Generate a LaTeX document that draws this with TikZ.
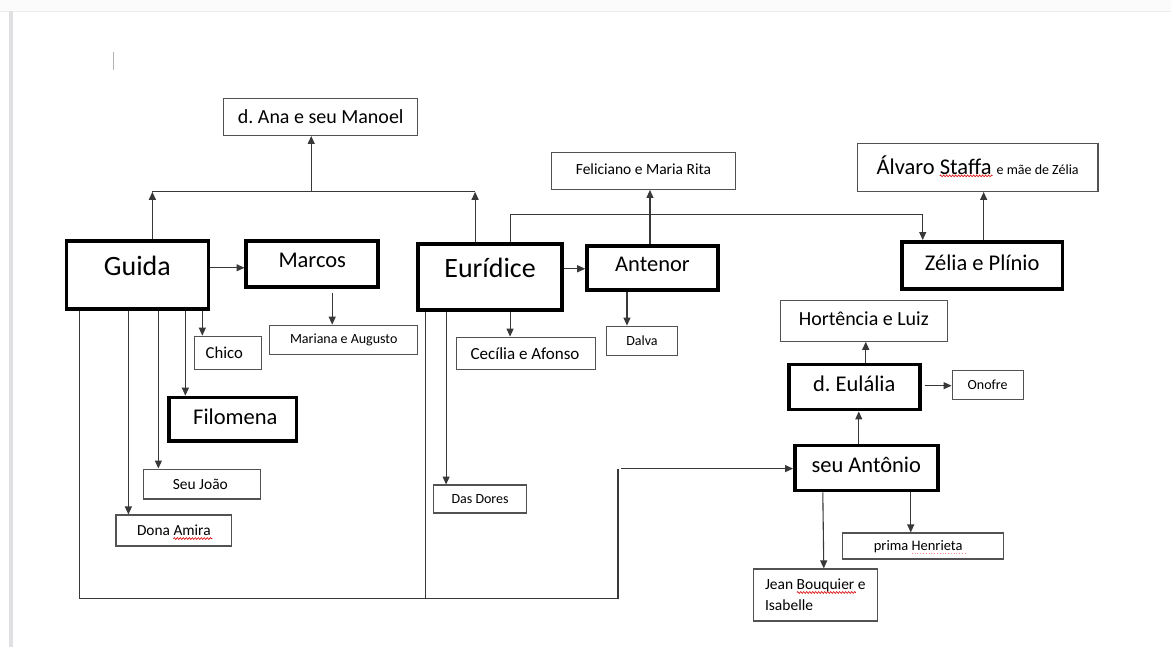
\documentclass[tikz,border=0pt]{standalone}
\usepackage{fontspec}
\setmainfont{Carlito}
\usetikzlibrary{arrows.meta,decorations.pathmorphing}
\newcommand\txtmv[3]{\raisebox{#2pt}[\height][\depth]{\rlap{\kern#1pt #3}\phantom{#3}}}
\newcommand\fsz[1]{\fontsize{#1}{#1}\selectfont}
\frenchspacing
\begin{document}
\begin{tikzpicture}[x=1pt,y=-1pt,
  conn/.style={draw=black!78, line width=1.1pt},
  arr/.style={conn, -{Triangle[length=8pt,width=7pt]}},
  thinbox/.style={draw=black!68, line width=1.2pt, inner sep=0pt, fill=white},
  thickbox/.style={draw=black, line width=3.6pt, inner sep=0pt, fill=white},
  squig/.style={draw=red!85!black, line width=0.6pt, decorate, decoration={snake, segment length=3pt, amplitude=0.9pt}},
]
% page
\fill[white] (0,0) rectangle (1171,648);
\fill[black!1.5] (0,0) rectangle (1171,11);
\draw[black!7, line width=1pt] (0,11.5) -- (1171,11.5);
\fill[blue!8!black!12] (9,11) rectangle (13,648);
\draw[black!30, line width=1pt] (113,52) -- (113,70);
\useasboundingbox (0,0) rectangle (1171,648);

% nodes
\node[thinbox, minimum width=194, minimum height=37, font=\fsz{20}] (dana) at (320.5,117) {d. Ana e seu Manoel};
\node[thickbox, minimum width=142, minimum height=68, font=\fsz{28}] (guida) at (137,275) {\txtmv{0}{9}{Guida}};
\node[thickbox, minimum width=132, minimum height=46, font=\fsz{22.5}] (marcos) at (312,264) {\txtmv{0}{3}{Marcos}};
\node[thinbox, minimum width=148, minimum height=29, font=\fsz{14}] (mariana) at (343.5,340) {Mariana e Augusto};
\node[thinbox, minimum width=67, minimum height=33, font=\fsz{16.7}] (chico) at (228,353) {\txtmv{-4}{0}{Chico}};
\node[thickbox, minimum width=127.4, minimum height=43.4, font=\fsz{22.5}] (filomena) at (232.5,419.5) {\txtmv{2.5}{2}{Filomena}};
\node[thinbox, minimum width=117, minimum height=30, font=\fsz{15.5}] (joao) at (202,484.5) {\txtmv{-2}{0}{Seu João}};
\node[thinbox, minimum width=116, minimum height=31, font=\fsz{15.4}] (amira) at (173.5,531) {Dona Amira};
\node[thickbox, minimum width=144, minimum height=66, font=\fsz{28}] (euridice) at (490,277) {\txtmv{0}{9}{Eurídice}};
\node[thickbox, minimum width=131, minimum height=44, font=\fsz{22.5}] (antenor) at (652.5,268) {\txtmv{0}{3}{Antenor}};
\node[thinbox, minimum width=184, minimum height=37, font=\fsz{15.5}] (feliciano) at (643.5,171) {\txtmv{0}{2}{Feliciano e Maria Rita}};
\node[thinbox, minimum width=139, minimum height=32, font=\fsz{17}] (cecilia) at (526,353.5) {\txtmv{-1}{0}{Cecília e Afonso}};
\node[thinbox, minimum width=71, minimum height=29, font=\fsz{14}] (dalva) at (642,341) {Dalva};
\node[thinbox, minimum width=93, minimum height=28, font=\fsz{14}] (dores) at (480,499.5) {Das Dores};
\node[thinbox, minimum width=241, minimum height=48, font=\fsz{22.5}] (alvaro) at (978,167.5) {\txtmv{0}{2}{Álvaro Staffa {\fsz{14}e mãe de Zélia}}};
\node[thickbox, minimum width=161, minimum height=47, font=\fsz{22.5}] (zelia) at (982.5,265.5) {\txtmv{0}{3}{Zélia e Plínio}};
\node[thinbox, minimum width=167, minimum height=41, font=\fsz{20}] (hortencia) at (864,321) {\txtmv{0}{2}{Hortência e Luiz}};
\node[thickbox, minimum width=131, minimum height=45, font=\fsz{22.5}] (eulalia) at (854.5,387.5) {\txtmv{0}{3}{d. Eulália}};
\node[thinbox, minimum width=71, minimum height=29, font=\fsz{14}] (onofre) at (988,385) {Onofre};
\node[thickbox, minimum width=143, minimum height=45, font=\fsz{22.5}] (antonio) at (866.5,468.5) {\txtmv{0}{3}{seu Antônio}};
\node[thinbox, minimum width=161, minimum height=26, font=\fsz{14.5}] (henrieta) at (923,546.5) {\txtmv{-4.5}{-1}{prima Henrieta}};
\node[thinbox, minimum width=124, minimum height=52, font={\fontsize{15.5}{21}\selectfont}, align=left] (jean) at (815.5,595.5) {Jean Bouquier e\\Isabelle};

% spell-check marks
\draw[squig] (940,176) -- (993,176);
\draw[squig] (173,539) -- (212,539);
\draw[squig] (797,593) -- (856,593);
\draw[red!45, line width=0.8pt, dotted] (912,554) -- (968,554);

% junctions
\coordinate (j1) at (152,192);
\coordinate (j2) at (475,192);
\coordinate (j3) at (311,192);
\coordinate (b1) at (79,599);
\coordinate (b2) at (425,599);
\coordinate (b3) at (618,599);
\coordinate (b4) at (618,469);
\coordinate (z1) at (510,215);
\coordinate (z2) at (923,215);

% connectors to d. Ana
\draw[arr] (guida.north -| j1) -- (j1);
\draw[arr] (euridice.north -| j2) -- (j2);
\draw[conn] (j1) -- (j2);
\draw[arr] (j3) -- (j3 |- dana.south);

% Guida
\draw[arr] (guida.east |- 0,268) -- (marcos.west |- 0,268);
\draw[arr] (332,293) -- (mariana.north -| 332,0);
\draw[arr] (guida.south -| 202,0) -- (chico.north -| 202,0);
\draw[arr] (guida.south -| 185,0) -- (filomena.north -| 185,0);
\draw[arr] (guida.south -| 158,0) -- (joao.north -| 158,0);
\draw[arr] (guida.south -| 128,0) -- (amira.north -| 128,0);
\draw[conn] (guida.south -| b1) -- (b1) -- (b3) -- (b4);
\draw[arr] (621,469) -- (antonio.west |- b4);

% Euridice
\draw[conn] (euridice.south -| b2) -- (b2);
\draw[arr] (euridice.east |- 0,269) -- (antenor.west |- 0,269);
\draw[arr] (euridice.south -| 510,0) -- (cecilia.north -| 510,0);
\draw[arr] (euridice.south -| 446,0) -- (dores.north -| 446,0);
\draw[arr] (euridice.north -| z1) -- (z1) -- (z2) -- (zelia.north -| z2);

% Antenor
\draw[arr] (antenor.north -| 650,0) -- (feliciano.south -| 650,0);
\draw[arr] (antenor.south -| 627,0) -- (dalva.north -| 627,0);

% Zelia
\draw[arr] (zelia.north -| 984,0) -- (alvaro.south -| 984,0);

% seu Antonio / Eulalia
\draw[arr] (antonio.north -| 859,0) -- (eulalia.south -| 859,0);
\draw[arr] (eulalia.north -| 866,0) -- (hortencia.south -| 866,0);
\draw[arr] (925,386) -- (onofre.west |- 0,386);
\draw[arr] (antonio.south -| 911,0) -- (henrieta.north -| 911,0);
\draw[arr] (antonio.south -| 823,0) -- (jean.north -| 824,0);
\end{tikzpicture}
\end{document}
